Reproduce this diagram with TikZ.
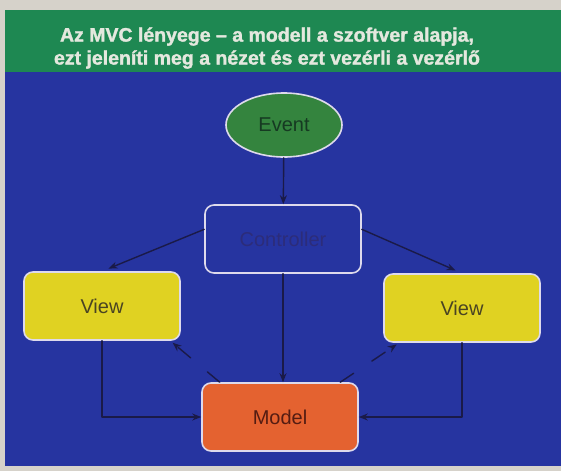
\documentclass[tikz,border=0pt]{standalone}
\usepackage{fontspec}
\setmainfont{Liberation Sans}
\newfontfamily\cimbetu[FakeBold=1.6]{Liberation Sans Bold}
\usetikzlibrary{shapes.geometric, arrows.meta}
\definecolor{hatter}{RGB}{214,210,202}
\definecolor{fejzold}{RGB}{30,136,82}
\definecolor{kek}{RGB}{38,52,160}
\definecolor{keret}{RGB}{222,218,236}
\definecolor{esemeny}{RGB}{52,132,62}
\definecolor{sarga}{RGB}{224,210,34}
\definecolor{narancs}{RGB}{228,98,48}
\definecolor{nyilszin}{RGB}{26,26,72}
\definecolor{cimszin}{RGB}{228,232,222}
\begin{document}
\begin{tikzpicture}[x=1pt, y=-1pt, line join=round, line cap=round, >={Stealth[length=9pt, width=7pt]},
	doboz/.style={draw=keret, line width=1.6pt, rounded corners=9pt, minimum width=156pt, minimum height=68pt, inner sep=0pt, font=\fontsize{20}{24}\selectfont},
	nyil/.style={->, draw=nyilszin, line width=1.4pt},
	szaggatott/.style={nyil, dash pattern=on 16pt off 22pt}]
	\useasboundingbox (0,0) rectangle (561,471);
	\fill[hatter] (0,0) rectangle (561,471);
	\fill[fejzold] (5,10) rectangle (561,72); % fejléc
	\fill[kek] (5,72) rectangle (561,466);
	\node[text=cimszin, align=center, font=\fontsize{19.5}{23}\cimbetu] (cim) at (267,48)
		{Az MVC lényege – a modell a szoftver alapja,\\ezt jeleníti meg a nézet és ezt vezérli a vezérlő};
	\node[ellipse, draw=keret, line width=1.6pt, fill=esemeny, minimum width=116pt, minimum height=64pt, inner sep=0pt,
		text={rgb,255:red,22;green,58;blue,34}, font=\fontsize{20}{24}\selectfont] (event) at (284,125) {Event};
	\node[doboz, fill=kek, text={rgb,255:red,44;green,44;blue,122}] (ctrl) at (283,239) {Controller};
	\node[doboz, fill=sarga, text={rgb,255:red,74;green,68;blue,34}] (viewL) at (102,306) {View};
	\node[doboz, fill=sarga, text={rgb,255:red,74;green,68;blue,34}] (viewR) at (462,308) {View};
	\node[doboz, fill=narancs, text={rgb,255:red,84;green,28;blue,18}] (model) at (280,417) {Model};
	% nyilak
	\draw[nyil] (event) -- (ctrl);
	\draw[nyil, shorten >=7pt] (ctrl.173) -- (viewL.north);
	\draw[nyil, shorten >=7pt] (ctrl.7) -- (viewR.north);
	\draw[nyil] (ctrl.south) -- (ctrl.south |- model.north);
	\draw[nyil] (viewL.south) |- (model.west);
	\draw[nyil] (viewR.south) |- (model.east);
	\draw[szaggatott, shorten >=3pt] (model.150) -- (viewL.-27);
	\draw[szaggatott, shorten >=3pt] (model.30) -- (viewR.209);
\end{tikzpicture}
\end{document}
